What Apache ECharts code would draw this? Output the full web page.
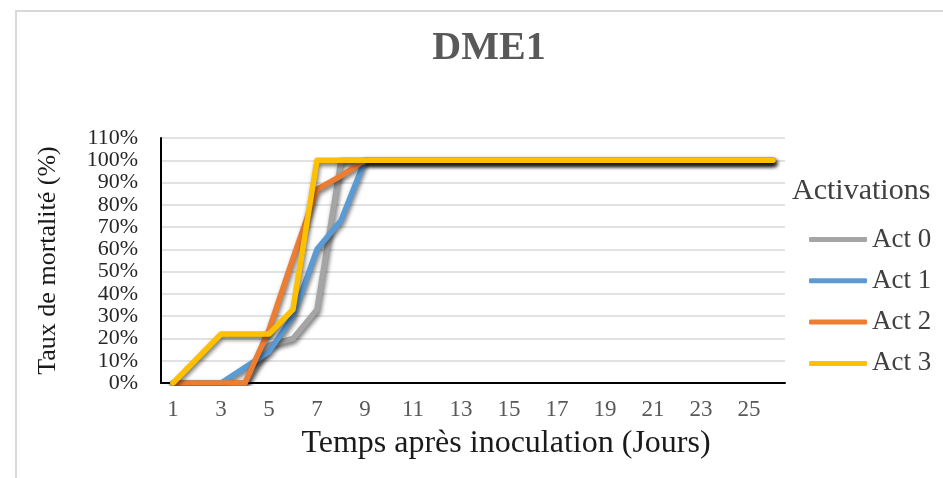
<!DOCTYPE html>
<html>
<head>
<meta charset="utf-8">
<script src="https://cdn.jsdelivr.net/npm/echarts@6/dist/echarts.min.js"></script>
<style>
  html, body { margin: 0; padding: 0; background: #fff; }
  #chart { width: 943px; height: 478px; }
</style>
</head>
<body>
<div id="chart"></div>
<script>
// Days after inoculation
const days = ['1','2','3','4','5','6','7','8','9','10','11','12','13','14','15','16','17','18','19','20','21','22','23','24','25','26'];
// Mortality rate (%) per activation level
const act0 = [0, 0, 0, 0, 17, 20, 33, 100, 100, 100, 100, 100, 100, 100, 100, 100, 100, 100, 100, 100, 100, 100, 100, 100, 100, 100];
const act1 = [0, 0, 0, 7, 14, 30, 60, 73, 100, 100, 100, 100, 100, 100, 100, 100, 100, 100, 100, 100, 100, 100, 100, 100, 100, 100];
const act2 = [0, 0, 0, 0, 24, 56, 87, 93, 100, 100, 100, 100, 100, 100, 100, 100, 100, 100, 100, 100, 100, 100, 100, 100, 100, 100];
const act3 = [0, 11, 22, 22, 22, 33, 100, 100, 100, 100, 100, 100, 100, 100, 100, 100, 100, 100, 100, 100, 100, 100, 100, 100, 100, 100];
const seriesNames = ['Act 0', 'Act 1', 'Act 2', 'Act 3'];
const seriesData = [act0, act1, act2, act3];
const colors = ['#A5A5A5', '#5B9BD5', '#ED7D31', '#FFC000'];

const serif = '"Liberation Serif", "Times New Roman", serif';

const chart = echarts.init(document.getElementById('chart'), null, { renderer: 'canvas' });

chart.setOption({
  backgroundColor: '#ffffff',
  animation: false,
  graphic: [{
    type: 'rect',
    shape: { x: 16, y: 11, width: 1000, height: 1000 },
    style: { fill: 'none', stroke: '#d9d9d9', lineWidth: 2 },
    silent: true
  }],
  title: [{
    text: 'DME1',
    left: 484, top: 24, textAlign: 'center',
    textStyle: { fontFamily: serif, fontWeight: 'bold', fontSize: 40, color: '#595959' }
  }, {
    text: 'Activations',
    left: 787, top: 171,
    textStyle: { fontFamily: serif, fontWeight: 'normal', fontSize: 30, color: '#404040' }
  }],
  legend: {
    orient: 'vertical',
    left: 804, top: 221,
    itemWidth: 58, itemHeight: 5,
    itemGap: 14.3,
    itemTextGap: 3,
    icon: 'roundRect',
    data: seriesNames,
    textStyle: { fontFamily: serif, fontSize: 27, color: '#404040', lineHeight: 24 }
  },
  grid: { left: 161, right: 158, top: 138, bottom: 95 },
  xAxis: {
    type: 'category',
    data: days,
    boundaryGap: true,
    name: 'Temps après inoculation (Jours)',
    nameLocation: 'middle',
    nameGap: 45,
    nameTextStyle: { fontFamily: serif, fontSize: 32, color: '#1a1a1a', padding: [0, 0, 0, 66] },
    axisLine: { lineStyle: { color: '#000', width: 2 } },
    axisTick: { show: false },
    axisLabel: { interval: 1, margin: 15, fontFamily: serif, fontSize: 23, color: '#595959' },
    splitLine: { show: false }
  },
  yAxis: {
    type: 'value',
    min: 0, max: 110, interval: 10,
    name: 'Taux de mortalité (%)',
    nameLocation: 'middle',
    nameGap: 100,
    nameTextStyle: { fontFamily: serif, fontSize: 26, color: '#1a1a1a' },
    axisLine: { show: true, lineStyle: { color: '#000', width: 2 } },
    axisTick: { show: false },
    axisLabel: {
      margin: 23, fontFamily: serif, fontSize: 22, color: '#262626',
      formatter: '{value}%', showMinLabel: true, showMaxLabel: true
    },
    splitLine: { lineStyle: { color: '#d9d9d9', width: 1.5 } }
  },
  series: seriesData.map((d, i) => ({
    name: seriesNames[i],
    type: 'line',
    data: d,
    symbol: 'none',
    color: colors[i],
    z: 2 + i,
    lineStyle: {
      width: 5.5,
      color: colors[i],
      cap: 'round',
      join: 'round',
      shadowColor: 'rgba(0,0,0,0.55)',
      shadowBlur: 4,
      shadowOffsetX: 1,
      shadowOffsetY: 3
    }
  }))
});
</script>
</body>
</html>
